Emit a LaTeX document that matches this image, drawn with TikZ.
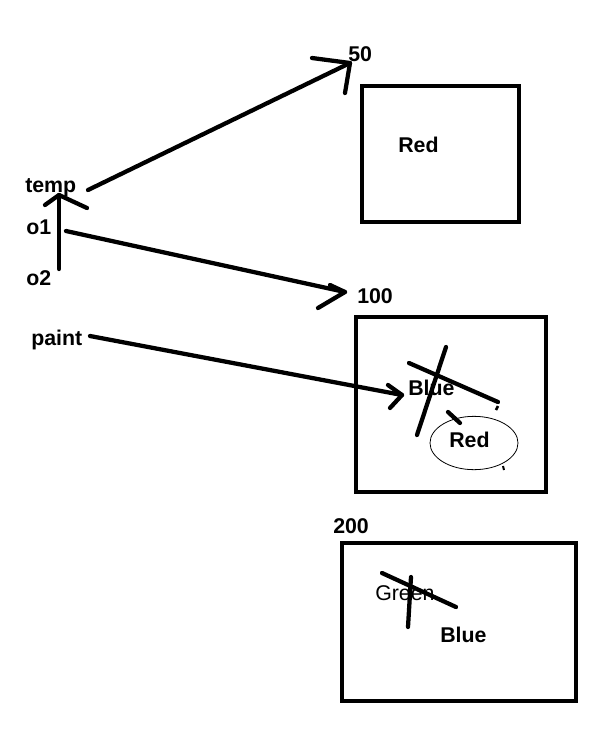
\documentclass[tikz,border=0pt]{standalone}
\usepackage{fontspec}
\setmainfont{Liberation Sans}
\usetikzlibrary{positioning}

\begin{document}
\begin{tikzpicture}[
  x=0.75pt, y=-0.75pt,
  every node/.style={font=\fontsize{16}{18}\selectfont\bfseries, inner sep=0pt, anchor=base west},
  pen/.style={line width=3.2pt, line cap=round, line join=round},
  cell/.style={line width=3pt},
  ring/.style={line width=0.6pt},
]
  \useasboundingbox (0,0) rectangle (600,751);

  % Variables
  \node (temp) at (25,192) {temp};
  \node (o1) at (26,234) {o1};
  \node (o2) at (26,285) {o2};
  \node (paint) at (31,345) {paint};

  % Addresses
  \node (a50) at (348,61) {50};
  \node (a100) at (357,303) {100};
  \node (a200) at (333,533) {200};

  % Memory cells
  \draw[cell] (362,86) rectangle (519,222);
  \draw[cell] (356,317) rectangle (546,492);
  \draw[cell] (342,543) rectangle (576,701);

  \node (red1) at (398,152) {Red};
  \node (blue1) at (408,395) {Blue};
  \node (red2) at (449,447) {Red};
  \node[font=\fontsize{16}{18}\selectfont] (green) at (375,600) {Green};
  \node (blue2) at (440,642) {Blue};

  % Arrow tips
  \coordinate (tipT) at (59,195);
  \coordinate (tip50) at (350,63);
  \coordinate (tip100) at (345,292);
  \coordinate (tipB) at (402,395);

  % o2 -> temp
  \draw[pen] (59,269) -- (tipT);
  \draw[pen] (45,205) -- (tipT) -- (87,208);

  % temp -> 50
  \draw[pen] (88,190) -- (tip50);
  \draw[pen] (312,58) -- (tip50) -- (345,93);

  % o1 -> 100
  \draw[pen] (66,231) -- (tip100);
  \draw[pen] (330,285) -- (tip100) -- (318,308);

  % paint -> Blue
  \draw[pen] (90,336) -- (tipB);
  \draw[pen] (388,385) -- (tipB) -- (390,408);

  % Crossed out Blue
  \draw[pen] (409,363) -- (498,402);
  \draw[pen] (446,347) -- (417,435);
  \draw[pen] (448,412) -- (460,423);
  \draw[line width=2pt] (496,410) -- (498,406);
  \draw[line width=1.5pt] (503,466) -- (504,470);
  \draw[ring] (474,443) ellipse [x radius=33pt, y radius=20pt];

  % Crossed out Green
  \draw[pen] (382,573) -- (456,607);
  \draw[pen] (411,577) -- (408,627);
\end{tikzpicture}
\end{document}
